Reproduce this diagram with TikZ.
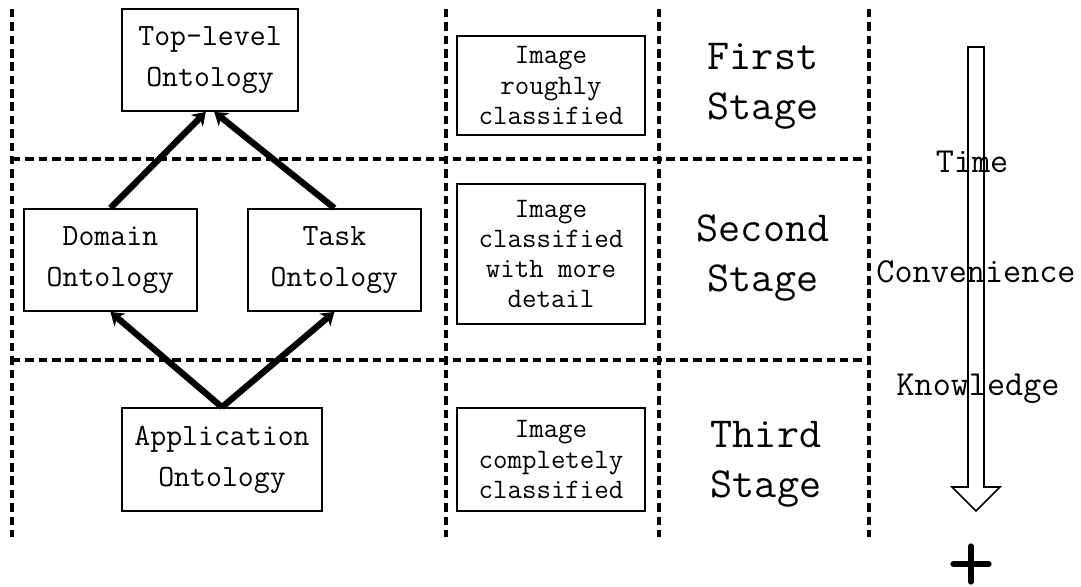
\documentclass[tikz,border=0pt]{standalone}
\usetikzlibrary{arrows.meta, calc, positioning}

\begin{document}
\begin{tikzpicture}[
    font=\ttfamily,
    thick,
    >={Stealth[length=9pt,width=12pt]}
]
    \useasboundingbox (0,0) rectangle (27.025,-14.65);

    % Styles for blocks
    \tikzstyle{onto} = [draw, rectangle, line width=1.3pt, align=center, inner sep=0pt, minimum height=2.55cm, font=\ttfamily\fontsize{22}{29}\selectfont]
    \tikzstyle{imgbox} = [draw, rectangle, line width=1.3pt, align=center, inner sep=0pt, minimum width=4.7cm, font=\ttfamily\fontsize{20}{21.5}\selectfont]
    \tikzstyle{stage} = [align=center, font=\ttfamily\fontsize{30.5}{35.5}\selectfont]
    \tikzstyle{axis_label} = [anchor=base, font=\ttfamily\fontsize{25}{30}\selectfont]
    \tikzstyle{grid_line} = [line width=2.4pt, dash pattern=on 6pt off 3.5pt]
    \tikzstyle{flow} = [->, line width=4.5pt]

    % Grid
    \draw [grid_line] (0.3,-0.225) -- (0.3,-13.425);
    \draw [grid_line] (11.15,-0.225) -- (11.15,-13.425);
    \draw [grid_line] (16.475,-0.225) -- (16.475,-13.425);
    \draw [grid_line] (21.725,-0.225) -- (21.725,-13.425);
    \draw [grid_line] (0.3,-3.975) -- (21.725,-3.975);
    \draw [grid_line] (0.3,-9.0) -- (21.725,-9.0);

    % Ontologies
    \node [onto, minimum width=4.4cm] (TopLevel) at (5.25,-1.5) {Top-level\\Ontology};
    \node [onto, minimum width=4.325cm] (Domain) at (2.76,-6.5) {Domain\\Ontology};
    \node [onto, minimum width=4.325cm] (Task) at (8.36,-6.5) {Task\\Ontology};
    \node [onto, minimum width=5cm, minimum height=2.575cm] (App) at (5.55,-11.49) {Application\\Ontology};

    % Image results
    \node [imgbox, minimum height=2.475cm] (ImgRough) at (13.775,-2.14) {Image\\roughly\\classified};
    \node [imgbox, minimum height=3.5cm] (ImgDetail) at (13.775,-6.35) {Image\\classified\\with more\\detail};
    \node [imgbox, minimum height=2.575cm] (ImgComplete) at (13.775,-11.49) {Image\\completely\\classified};

    % Stages
    \node [stage] (StageFirst) at (19.075,-2.15) {First\\Stage};
    \node [stage] (StageSecond) at (19.075,-6.45) {Second\\Stage};
    \node [stage] (StageThird) at (19.15,-11.6) {Third\\Stage};

    % Connections
    \draw [flow] (Domain.north) -- ([xshift=-3pt]TopLevel.south);
    \draw [flow] (Task.north) -- ([xshift=3pt]TopLevel.south);
    \draw [flow] (App.north) -- (Domain.south);
    \draw [flow] (App.north) -- (Task.south);

    % Time arrow
    \draw [line width=1.1pt, line join=miter] (24.2,-1.175) -- (24.6,-1.175) -- (24.6,-12.175) -- (25.0,-12.175)
        -- (24.4,-12.775) coordinate (tip) -- (23.8,-12.175) -- (24.2,-12.175) -- cycle;
    \node [axis_label] (Time) at (24.3,-4.3) {Time};
    \node [axis_label] (Conv) at (24.4,-7.05) {Convenience};
    \node [axis_label] (Know) at (24.45,-9.875) {Knowledge};

    % Plus
    \coordinate (plus_c) at (24.275,-14.1);
    \draw [line width=4.3pt, line cap=round] ($(plus_c)+(-0.44,0)$) -- ($(plus_c)+(0.44,0)$);
    \draw [line width=4.3pt, line cap=round] ($(plus_c)+(0,-0.44)$) -- ($(plus_c)+(0,0.44)$);

\end{tikzpicture}
\end{document}
